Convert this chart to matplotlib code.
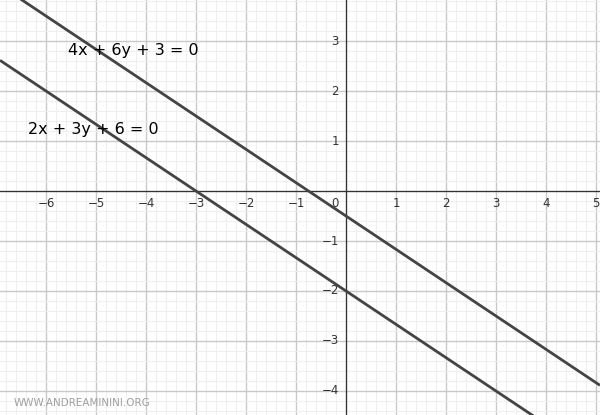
import numpy as np
import matplotlib.pyplot as plt
from matplotlib.ticker import MultipleLocator

# coefficients a, b, c of a*x + b*y + c = 0
line_labels = ["4x + 6y + 3 = 0", "2x + 3y + 6 = 0"]
coef_a = [4, 2]
coef_b = [6, 3]
coef_c = [3, 6]
label_x = [-5.55, -6.35]
label_y = [2.82, 1.23]

xticks = [-6, -5, -4, -3, -2, -1, 1, 2, 3, 4, 5]
yticks = [-4, -3, -2, -1, 1, 2, 3]

xmin, xmax = -6.92, 5.08
ymin, ymax = -4.48, 3.82

fig = plt.figure(figsize=(6, 4.15), dpi=100)
ax = fig.add_axes([0, 0, 1, 1])
ax.set_xlim(xmin, xmax)
ax.set_ylim(ymin, ymax)

ax.xaxis.set_major_locator(MultipleLocator(1))
ax.yaxis.set_major_locator(MultipleLocator(1))
ax.xaxis.set_minor_locator(MultipleLocator(0.2))
ax.yaxis.set_minor_locator(MultipleLocator(0.2))
ax.grid(which='minor', color='#efefef', lw=0.8)
ax.grid(which='major', color='#c9c9c9', lw=1.0)
ax.set_axisbelow(True)
ax.tick_params(which='both', length=0, labelbottom=False, labelleft=False)
for s in ax.spines.values():
    s.set_visible(False)

ax.axhline(0, color='#333333', lw=0.9)
ax.axvline(0, color='#333333', lw=0.9)

xs = np.array([xmin, xmax])
for a, b, c in zip(coef_a, coef_b, coef_c):
    ax.plot(xs, -(a * xs + c) / b, color='#444444', lw=2, solid_capstyle='butt')

for t, x, y in zip(line_labels, label_x, label_y):
    ax.text(x, y, t, fontsize=11.5, color='black', va='center', ha='left')

for v in xticks:
    ax.text(v, -0.24, str(v).replace('-', '\u2212'), fontsize=8.5, color='#333333',
            ha='center', va='center')
for v in yticks:
    ax.text(-0.14, v, str(v).replace('-', '\u2212'), fontsize=8.5, color='#333333',
            ha='right', va='center')
ax.text(-0.14, -0.24, '0', fontsize=8.5, color='#333333', ha='right', va='center')

fig.text(0.022, 0.03, 'WWW.ANDREAMININI.ORG', fontsize=7.5, color='#a0a0a0',
         ha='left', va='center')

fig.savefig('out.png', dpi=100)
